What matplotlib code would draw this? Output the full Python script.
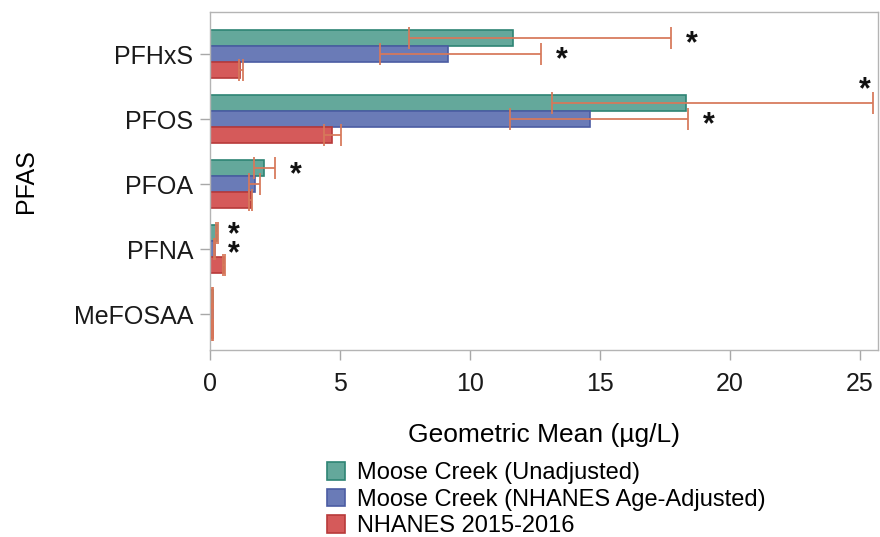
import matplotlib
matplotlib.use("Agg")
import matplotlib.pyplot as plt
import numpy as np
from matplotlib.patches import Patch

plt.rcParams['font.family'] = ['Liberation Sans', 'DejaVu Sans']

# PFAS geometric means (ug/L) with 95% CI bounds
pfas = ["PFHxS", "PFOS", "PFOA", "PFNA", "MeFOSAA"]
series = ["Moose Creek (Unadjusted)", "Moose Creek (NHANES Age-Adjusted)", "NHANES 2015-2016"]

unadj_gm = [11.65, 18.33, 2.08, 0.28, 0.10]
unadj_lo = [7.65, 13.17, 1.70, 0.25, 0.09]
unadj_hi = [17.75, 25.50, 2.50, 0.31, 0.11]

adj_gm = [9.15, 14.62, 1.73, 0.19, 0.10]
adj_lo = [6.53, 11.55, 1.50, 0.17, 0.09]
adj_hi = [12.75, 18.41, 1.92, 0.21, 0.11]

nh_gm = [1.17, 4.71, 1.56, 0.55, 0.10]
nh_lo = [1.12, 4.39, 1.50, 0.52, 0.09]
nh_hi = [1.27, 5.06, 1.62, 0.58, 0.11]

# which bars are flagged as significantly different
unadj_sig = [True, True, True, True, False]
adj_sig = [True, True, False, True, False]

fills = ["#64a89b", "#6a7bb7", "#d55a5a"]
edges = ["#2e8474", "#4b5ca3", "#b83a3a"]
err_color = "#d7785a"

fig = plt.figure(figsize=(8.8, 5.37), dpi=100)
ax = fig.add_axes([0.2386, 0.3482, 0.7591, 0.6295])

y = np.arange(len(pfas))
h = 0.246
groups = [
    (unadj_gm, unadj_lo, unadj_hi, -h),
    (adj_gm, adj_lo, adj_hi, 0.0),
    (nh_gm, nh_lo, nh_hi, h),
]
for k, (gm, lo, hi, off) in enumerate(groups):
    gm = np.array(gm)
    xerr = np.vstack([gm - np.array(lo), np.array(hi) - gm])
    ax.barh(y + off, gm, height=h, color=fills[k], edgecolor=edges[k],
            linewidth=1.2, label=series[k], zorder=2)
    ax.errorbar(gm, y + off, xerr=xerr, fmt='none', ecolor=err_color,
                elinewidth=1.4, capsize=8, capthick=1.4, alpha=0.9, zorder=3)

# significance markers
star = dict(ha='center', va='center', fontsize=22, fontweight='bold', color='#111111')
for i in range(len(pfas)):
    if unadj_sig[i] and adj_sig[i] and max(unadj_hi[i], adj_hi[i]) < 1:
        # tiny bars: stack both stars in one label
        ax.text(max(unadj_hi[i], adj_hi[i]) + 0.6, y[i] - h / 2 + 0.05, "*\n*",
                linespacing=0.5, **star)
        continue
    if unadj_sig[i]:
        if pfas[i] == "PFOS":
            ax.text(unadj_hi[i] - 0.3, y[i] - h - 0.2, "*", **star)
        else:
            ax.text(unadj_hi[i] + 0.8, y[i] - h + 0.1, "*", **star)
    if adj_sig[i]:
        ax.text(adj_hi[i] + 0.8, y[i] + 0.1, "*", **star)

ax.set_xlim(0, 25.7)
ax.set_ylim(4.55, -0.65)
ax.set_xticks([0, 5, 10, 15, 20, 25])
ax.set_yticks(y)
ax.set_yticklabels(pfas)
ax.tick_params(axis='both', labelsize=18, labelcolor='#1a1a1a', color='#a8a8a8',
               length=7, width=1)
ax.tick_params(axis='x', pad=9)
ax.tick_params(axis='y', pad=5)
for s in ax.spines.values():
    s.set_color('#b4b4b4')
    s.set_linewidth(1)

ax.set_ylabel("PFAS", fontsize=18)
ax.yaxis.set_label_coords(-0.257, 0.5)
ax.set_xlabel("Geometric Mean (\u00b5g/L)", fontsize=19, labelpad=19)

handles = [Patch(facecolor=fills[k], edgecolor=edges[k], linewidth=1.2, label=series[k]) for k in range(3)]
fig.legend(handles=handles, loc='upper left', bbox_to_anchor=(0.372, 0.139), frameon=False,
           fontsize=17, handlelength=0.75, handleheight=0.75, handletextpad=0.5,
           labelspacing=0.19, borderaxespad=0, borderpad=0)

fig.savefig("out.png", dpi=100)
